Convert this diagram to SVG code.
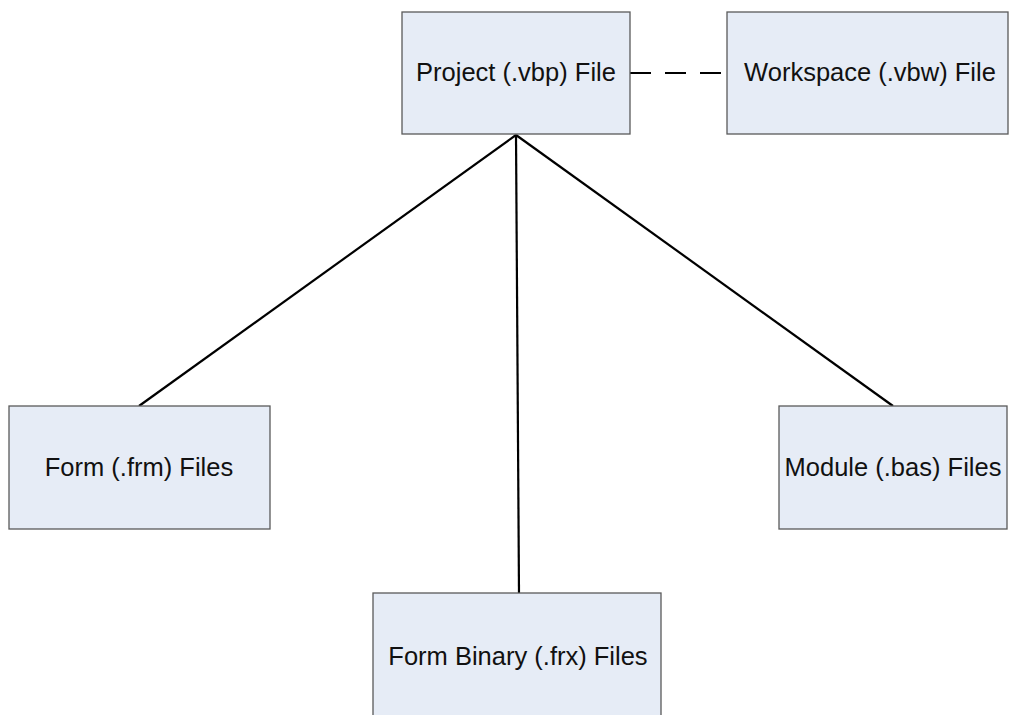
<svg xmlns="http://www.w3.org/2000/svg" width="1010" height="715" viewBox="0 0 1010 715">
<style>
.box{fill:#e6ecf6;stroke:#5a5a5a;stroke-width:1.3}
.lbl{font-family:"Liberation Sans",Arial,sans-serif;font-size:25.5px;fill:#111;text-anchor:middle}
.ln{stroke:#000;stroke-width:2.2;fill:none}
</style>
<rect width="1010" height="715" fill="#fff"/>
<g id="connectors">
<line class="ln" x1="630" y1="73" x2="727" y2="73" stroke-dasharray="21,14"/>
<line class="ln" x1="516" y1="135" x2="139" y2="406"/>
<line class="ln" x1="516" y1="135" x2="519" y2="593"/>
<line class="ln" x1="516" y1="135" x2="893" y2="406"/>
</g>
<g id="project"><rect class="box" x="402" y="12" width="228" height="122"/><text class="lbl" x="516" y="81">Project (.vbp) File</text></g>
<g id="workspace"><rect class="box" x="727" y="12" width="281" height="122"/><text class="lbl" x="870" y="81">Workspace (.vbw) File</text></g>
<g id="form"><rect class="box" x="9" y="406" width="261" height="123"/><text class="lbl" x="139" y="476">Form (.frm) Files</text></g>
<g id="module"><rect class="box" x="779" y="406" width="228" height="123"/><text class="lbl" x="893" y="476">Module (.bas) Files</text></g>
<g id="formbinary"><rect class="box" x="373" y="593" width="288" height="130"/><text class="lbl" x="518" y="665">Form Binary (.frx) Files</text></g>
</svg>
